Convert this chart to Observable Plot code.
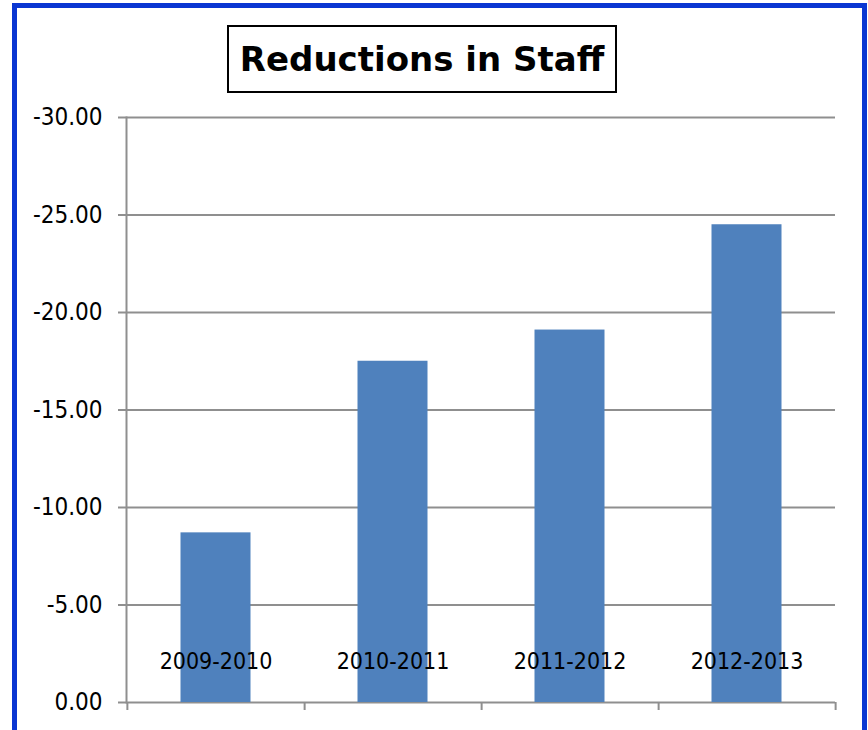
<!DOCTYPE html>
<html><head><meta charset="utf-8">
<script src="https://cdn.jsdelivr.net/npm/d3@7"></script>
<script src="https://cdn.jsdelivr.net/npm/@observablehq/plot@0.6"></script>
<style>
html,body{margin:0;padding:0;background:#fff;}
#wrap{position:relative;width:868px;height:730px;overflow:hidden;background:#fff;}
#chart{position:absolute;left:0;top:0;}
#border{position:absolute;left:12px;top:3px;width:855px;height:740px;border:5px solid #0a36d2;box-sizing:border-box;pointer-events:none;}
#title{position:absolute;left:227px;top:25px;width:390px;height:68px;box-sizing:border-box;border:2px solid #000;font:bold 34px "DejaVu Sans",sans-serif;display:flex;align-items:center;justify-content:center;color:#000;background:#fff;white-space:nowrap;}
#chart svg text{font-stretch:condensed;}
</style></head>
<body>
<div id="wrap">
  <div id="chart"></div>
  <div id="title">Reductions in Staff</div>
  <div id="border"></div>
</div>
<script>
const categories = ["2009-2010", "2010-2011", "2011-2012", "2012-2013"];
const values = [-8.7, -17.5, -19.1, -24.5];
const yTicks = [-30, -25, -20, -15, -10, -5, 0];

const data = categories.map((c, i) => ({category: c, value: values[i]}));

const W = 868, H = 730, mL = 126, mR = 33, mT = 117, mB = 28;
const bw = (W - mL - mR) / categories.length;
const gridColor = "#8f8f8f";

const chart = Plot.plot({
  width: W, height: H,
  marginLeft: mL, marginRight: mR, marginTop: mT, marginBottom: mB,
  style: {background: "transparent", fontFamily: "'DejaVu Sans Condensed', 'DejaVu Sans'", color: "#000"},
  x: {domain: categories, padding: 0, axis: null},
  y: {domain: [0, -30], axis: null},
  marks: [
    Plot.ruleY(yTicks, {stroke: gridColor, strokeWidth: 2}),
    Plot.frame({anchor: "left", stroke: gridColor, strokeWidth: 2}),
    Plot.axisY({ticks: yTicks, tickSize: 8, tickPadding: 16, tickFormat: d => d.toFixed(2),
      fontSize: 24, stroke: gridColor, strokeWidth: 2, fill: "#000", label: null}),
    Plot.axisX({ticks: categories, tickSize: 8, dx: bw / 2, tickFormat: () => "",
      stroke: gridColor, strokeWidth: 2, label: null}),
    Plot.axisX({ticks: [categories[0]], tickSize: 8, dx: -bw / 2, tickFormat: () => "",
      stroke: gridColor, strokeWidth: 2, label: null}),
    Plot.barY(data, {x: "category", y: "value", fill: "#4f81bd", insetLeft: 53.5, insetRight: 53.5}),
    Plot.text(categories, {x: d => d, frameAnchor: "bottom", dy: -34, fontSize: 23, fill: "#000"})
  ]
});
document.getElementById("chart").appendChild(chart);
</script>
</body></html>
